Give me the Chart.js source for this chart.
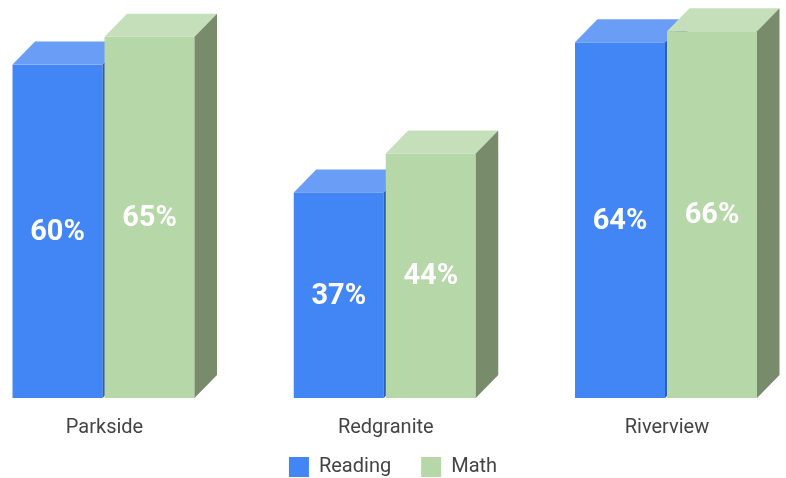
<!DOCTYPE html>
<html>
<head>
<meta charset="utf-8">
<script src="https://cdn.jsdelivr.net/npm/chart.js@4/dist/chart.umd.min.js"></script>
<style>
  html, body { margin: 0; padding: 0; background: #fff; overflow: hidden; }
  #wrap { width: 786px; height: 478px; position: relative; }
</style>
</head>
<body>
<div id="wrap"><canvas id="scores-chart"></canvas></div>
<script>
const schools = ['Parkside', 'Redgranite', 'Riverview'];
const readingScores = [60, 37, 64];
const mathScores = [65, 44, 66];

const palette = {
  Reading: { front: '#4285f4', top: '#6a9ef6', side: '#2d5fb3' },
  Math: { front: '#b6d7a8', top: '#c4dfb9', side: '#788c6b' }
};

// fake 3D look: front face plus a slanted top and right side
const DEPTH_X = 22.5;
const DEPTH_Y = 23;
const FRONT_W = 90;

const boxes3d = {
  id: 'boxes3d',
  beforeDatasetsDraw(chart) {
    const ctx = chart.ctx;
    const metas = chart.getSortedVisibleDatasetMetas();
    ctx.save();

    schools.forEach((_, i) => {
      metas.forEach(meta => {
        const bar = meta.data[i];
        const c = palette[chart.data.datasets[meta.index].label];
        const left = bar.x - bar.width / 2;
        const right = left + FRONT_W;
        const top = bar.y;
        const base = bar.base;

        ctx.fillStyle = c.front;
        ctx.fillRect(left, top, FRONT_W, base - top);

        ctx.fillStyle = c.top;
        ctx.beginPath();
        ctx.moveTo(left, top);
        ctx.lineTo(right, top);
        ctx.lineTo(right + DEPTH_X, top - DEPTH_Y);
        ctx.lineTo(left + DEPTH_X, top - DEPTH_Y);
        ctx.closePath();
        ctx.fill();

        ctx.fillStyle = c.side;
        ctx.beginPath();
        ctx.moveTo(right, top);
        ctx.lineTo(right + DEPTH_X, top - DEPTH_Y);
        ctx.lineTo(right + DEPTH_X, base - DEPTH_Y);
        ctx.lineTo(right, base);
        ctx.closePath();
        ctx.fill();
      });
    });

    // value labels in the middle of each front face
    ctx.fillStyle = '#ffffff';
    ctx.font = 'bold 29px Roboto';
    ctx.textAlign = 'center';
    ctx.textBaseline = 'alphabetic';
    metas.forEach(meta => {
      const ds = chart.data.datasets[meta.index];
      meta.data.forEach((bar, i) => {
        const left = bar.x - bar.width / 2;
        const mid = (bar.y + bar.base) / 2;
        ctx.fillText(ds.data[i].y + '%', left + FRONT_W / 2, mid + 8.5);
      });
    });

    ctx.restore();
    return false;
  }
};

const ctx = document.getElementById('scores-chart').getContext('2d');

new Chart(ctx, {
  type: 'bar',
  data: {
    datasets: [
      {
        label: 'Reading',
        data: readingScores.map((v, i) => ({ x: i, y: v })),
        backgroundColor: palette.Reading.front,
        borderWidth: 0,
        barThickness: 92
      },
      {
        label: 'Math',
        data: mathScores.map((v, i) => ({ x: i, y: v })),
        backgroundColor: palette.Math.front,
        borderWidth: 0,
        barThickness: 92
      }
    ]
  },
  options: {
    responsive: true,
    maintainAspectRatio: false,
    animation: false,
    layout: { padding: { top: 9, bottom: -9, left: 0, right: 0 } },
    plugins: {
      tooltip: { enabled: false },
      legend: {
        position: 'bottom',
        labels: {
          boxWidth: 20,
          boxHeight: 20,
          padding: 30,
          color: '#444',
          font: { family: 'Roboto', size: 20 }
        }
      }
    },
    scales: {
      x: {
        type: 'linear',
        min: -0.3716,
        max: 2.4231,
        offset: false,
        grid: { display: false, drawTicks: false },
        border: { display: false },
        afterBuildTicks: axis => {
          axis.ticks = schools.map((_, i) => ({ value: i }));
        },
        afterFit: axis => {
          axis.height = 29;
        },
        ticks: {
          // mirror keeps the labels from being clipped to the short axis box
          mirror: true,
          padding: -42,
          autoSkip: false,
          maxRotation: 0,
          color: '#444',
          font: { family: 'Roboto', size: 20 },
          callback: v => schools[v]
        }
      },
      y: {
        display: false,
        min: 0,
        max: 70
      }
    }
  },
  plugins: [boxes3d]
});
</script>
</body>
</html>
